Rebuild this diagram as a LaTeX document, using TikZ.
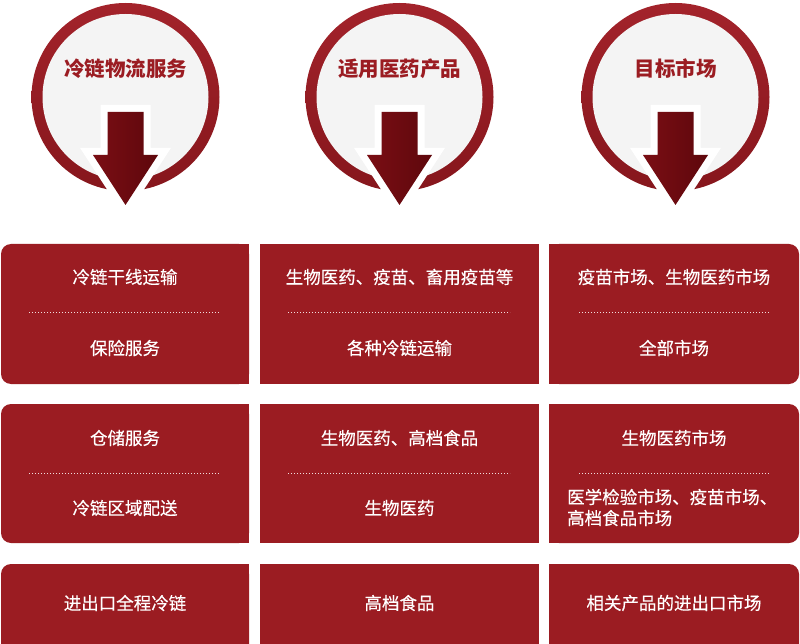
\documentclass[tikz,border=0pt]{standalone}
\usepackage{fontspec}
\setmainfont{Noto Sans CJK SC}
\newfontfamily\boxfont{Noto Sans CJK SC}[FakeBold=0.35]
\definecolor{boxred}{HTML}{9B1C22}
\definecolor{ringtop}{HTML}{A3232B}
\definecolor{ringbot}{HTML}{86161C}
\definecolor{arrowlight}{HTML}{7A0E14}
\definecolor{arrowdark}{HTML}{5E070C}
\definecolor{diskgray}{HTML}{F4F4F4}
\begin{document}
\begin{tikzpicture}[x=1pt,y=-1pt,
  boxtext/.style={text=white,font=\boxfont\fontsize{17.5}{21}\selectfont,inner sep=0pt},
  headtext/.style={text=boxred,font=\bfseries\fontsize{20.5}{24}\selectfont,inner sep=0pt},
  dotline/.style={white,opacity=0.85,line width=1pt,dash pattern=on 1.2pt off 1.8pt},
  boxfill/.style={fill=boxred}]
\useasboundingbox (0,0) rectangle (800,644);

% ---------- headers ----------
\foreach \cx/\nm/\txt in {125.5/a/冷链物流服务, 399.5/b/适用医药产品, 675.5/c/目标市场}{
  \shade[top color=ringtop, bottom color=ringbot] (\cx,97) circle (94);
  \fill[diskgray] (\cx,97) circle (83);
  \draw[white,line width=14pt,line join=miter]
    (\cx-18,112) -- (\cx+18,112) -- (\cx+18,155) -- (\cx+32.5,155) -- (\cx,205)
    -- (\cx-32.5,155) -- (\cx-18,155) -- cycle;
  \shade[left color=arrowlight, right color=arrowdark]
    (\cx-18,112) -- (\cx+18,112) -- (\cx+18,155) -- (\cx+32.5,155) -- (\cx,205)
    -- (\cx-32.5,155) -- (\cx-18,155) -- cycle;
  \node[headtext] (head\nm) at (\cx,69) {\txt};
}

% ---------- boxes ----------
% left column (rounded on the left)
\foreach \ya/\yb in {244/384, 404/543, 564/660}{
  \fill[boxred,rounded corners=10pt] (1,\ya) rectangle (249,\yb);
  \fill[boxred] (125,\ya) rectangle (249,\yb);
}
% middle column
\foreach \ya/\yb in {244/384, 404/543, 564/660}{
  \fill[boxred] (260,\ya) rectangle (539,\yb);
}
% right column (rounded on the right)
\foreach \ya/\yb in {244/384, 404/543, 564/660}{
  \fill[boxred,rounded corners=10pt] (549,\ya) rectangle (799,\yb);
  \fill[boxred] (549,\ya) rectangle (674,\yb);
}

% ---------- dotted separators ----------
\foreach \y in {312, 473}{
  \draw[dotline] (29,\y) -- (220,\y);
  \draw[dotline] (288,\y) -- (510,\y);
  \draw[dotline] (579,\y) -- (770,\y);
}

% ---------- texts ----------
\node[boxtext] (l1a) at (125,277) {冷链干线运输};
\node[boxtext] (l1b) at (125,348) {保险服务};
\node[boxtext] (l2a) at (125,438) {仓储服务};
\node[boxtext] (l2b) at (125,508) {冷链区域配送};
\node[boxtext] (l3)  at (125,603) {进出口全程冷链};

\node[boxtext] (m1a) at (399.5,277) {生物医药、疫苗、畜用疫苗等};
\node[boxtext] (m1b) at (399.5,348) {各种冷链运输};
\node[boxtext] (m2a) at (399.5,438) {生物医药、高档食品};
\node[boxtext] (m2b) at (399.5,508) {生物医药};
\node[boxtext] (m3)  at (399.5,603) {高档食品};

\node[boxtext] (r1a) at (674,277) {疫苗市场、生物医药市场};
\node[boxtext] (r1b) at (674,348) {全部市场};
\node[boxtext] (r2a) at (674,438) {生物医药市场};
\node[boxtext,anchor=west,align=left] (r2b) at (567,507.5) {医学检验市场、疫苗市场、\\高档食品市场};
\node[boxtext] (r3)  at (674,603) {相关产品的进出口市场};
\end{tikzpicture}
\end{document}
